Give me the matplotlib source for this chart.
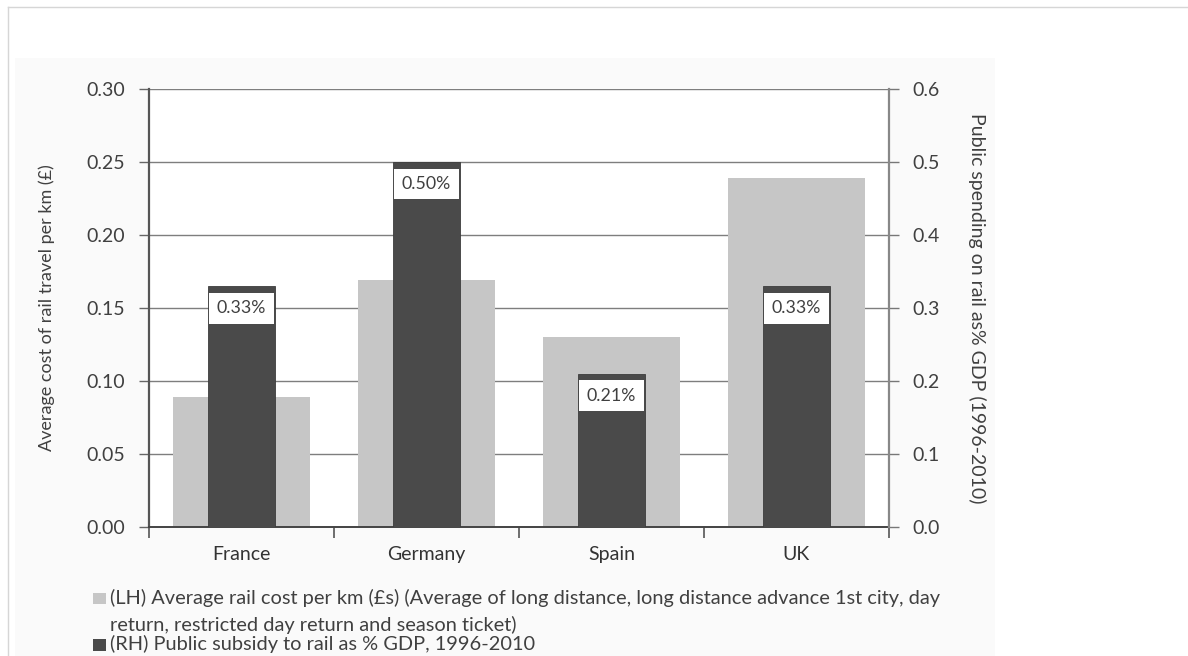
import matplotlib
matplotlib.use("Agg")
import matplotlib.pyplot as plt
from matplotlib.patches import Rectangle
from matplotlib.lines import Line2D
import numpy as np

plt.rcParams["font.family"] = ["Lato", "DejaVu Sans"]

# Data
countries = ["France", "Germany", "Spain", "UK"]
rail_cost_per_km = [0.089, 0.169, 0.130, 0.239]          # LH, £ per km
subsidy_pct_gdp = [0.33, 0.50, 0.21, 0.33]               # RH, % of GDP
subsidy_labels = ["0.33%", "0.50%", "0.21%", "0.33%"]
left_ticks = [0.00, 0.05, 0.10, 0.15, 0.20, 0.25, 0.30]
right_ticks = [0.0, 0.1, 0.2, 0.3, 0.4, 0.5, 0.6]

LIGHT = "#c6c6c6"
DARK = "#4a4a4a"
TEXT = "#404040"

W, H = 1188, 656
fig = plt.figure(figsize=(W / 100, H / 100), dpi=100)


def fx(x):
    return x / W


def fy(y):
    return 1 - y / H


# faint page panel and outer frame
fig.patches.append(Rectangle((fx(15), 0), fx(995) - fx(15), fy(58), transform=fig.transFigure,
                             facecolor="#fafafa", edgecolor="none", zorder=-10))
fig.lines.append(Line2D([fx(8), 1], [fy(7), fy(7)], transform=fig.transFigure, color="#d6d6d6", lw=1))
fig.lines.append(Line2D([fx(8), fx(8)], [0, fy(7)], transform=fig.transFigure, color="#d6d6d6", lw=1))

ax = fig.add_axes([fx(149), fy(527), fx(889) - fx(149), fy(89) - fy(527)])
ax.set_facecolor("white")
x = np.arange(len(countries))

ax.bar(x, rail_cost_per_km, width=0.74, color=LIGHT, zorder=2)
ax.set_xlim(-0.5, len(countries) - 0.5)
ax.set_ylim(0, 0.30)
ax.set_yticks(left_ticks)
ax.set_yticklabels([f"{v:.2f}" for v in left_ticks])
ax.yaxis.grid(True, color="#7e7e7e", lw=1.0, zorder=0)
ax.set_axisbelow(True)

ax.set_xticks(x)
ax.set_xticklabels(countries, fontsize=14, color="#333333")
ax.tick_params(axis="x", which="major", length=0, pad=14)
ax.set_xticks(np.arange(-0.5, len(countries)), minor=True)
ax.tick_params(axis="x", which="minor", length=8, width=1.2, color="#555555")
ax.tick_params(axis="y", length=7, width=1.0, color="#666666", labelsize=14, labelcolor=TEXT, pad=10)

ax.spines["top"].set_visible(False)
ax.spines["right"].set_visible(False)
ax.spines["left"].set_color("#555555")
ax.spines["left"].set_linewidth(1.6)
ax.spines["bottom"].set_color("#444444")
ax.spines["bottom"].set_linewidth(1.4)

ax.set_ylabel("Average cost of rail travel per km (£)", fontsize=13, color=TEXT)
ax.yaxis.set_label_coords(-0.1378, 0.5)
ax.yaxis.label.set_va("center")

ax2 = ax.twinx()
ax2.bar(x, subsidy_pct_gdp, width=0.362, color=DARK, edgecolor="#3c3c3c", lw=0.6, zorder=3)
ax2.set_ylim(0, 0.6)
ax2.set_yticks(right_ticks)
ax2.set_yticklabels([f"{v:.1f}" for v in right_ticks])
ax2.tick_params(axis="y", length=7, width=1.0, color="#777777", labelsize=14, labelcolor=TEXT, pad=10)
for s in ["top", "left", "bottom"]:
    ax2.spines[s].set_visible(False)
ax2.spines["right"].set_color("#888888")
ax2.spines["right"].set_linewidth(1.6)
ax2.set_ylabel("Public spending on rail as% GDP (1996-2010)", fontsize=14, color=TEXT, rotation=270)
ax2.yaxis.set_label_coords(1.119, 0.5)
ax2.yaxis.label.set_va("center")

for xi, v, lab in zip(x, subsidy_pct_gdp, subsidy_labels):
    ax2.annotate(lab, (xi, v), xytext=(0, -22), textcoords="offset pixels",
                 ha="center", va="center", fontsize=12.8, color=TEXT, zorder=5,
                 bbox=dict(boxstyle="square,pad=0.42", facecolor="white", edgecolor="none"))

# legend
fig.patches.append(Rectangle((fx(93), fy(604)), fx(106) - fx(93), fy(593) - fy(604),
                             transform=fig.transFigure, facecolor=LIGHT, edgecolor="none"))
fig.patches.append(Rectangle((fx(93), fy(651)), fx(106) - fx(93), fy(639) - fy(651),
                             transform=fig.transFigure, facecolor=DARK, edgecolor="none"))
fig.text(fx(110), fy(598), "(LH) Average rail cost per km (£s) (Average of long distance, long distance advance 1st city, day",
         fontsize=14.4, color=TEXT, va="center", ha="left")
fig.text(fx(110), fy(625), "return, restricted day return and season ticket)",
         fontsize=14.4, color=TEXT, va="center", ha="left")
fig.text(fx(110), fy(644), "(RH) Public subsidy to rail as % GDP, 1996-2010",
         fontsize=14.4, color=TEXT, va="center", ha="left")

fig.savefig("out.png", dpi=100, facecolor="white")
